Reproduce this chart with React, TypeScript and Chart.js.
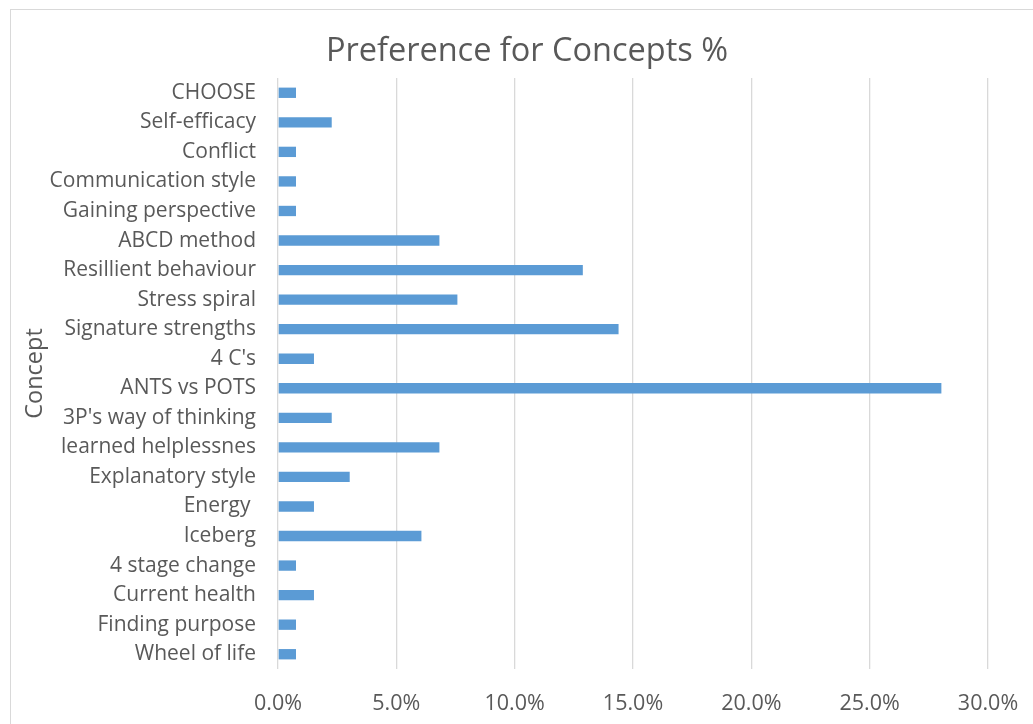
import React, { useEffect, useRef } from "react";
import { Chart, registerables } from "chart.js";

Chart.register(...registerables);

const categories: string[] = [
  "CHOOSE",
  "Self-efficacy",
  "Conflict",
  "Communication style",
  "Gaining perspective",
  "ABCD method",
  "Resillient behaviour",
  "Stress spiral",
  "Signature strengths",
  "4 C's",
  "ANTS vs POTS",
  "3P's way of thinking",
  "learned helplessnes",
  "Explanatory style",
  "Energy ",
  "Iceberg",
  "4 stage change",
  "Current health",
  "Finding purpose",
  "Wheel of life",
];

const preferencePercent: number[] = [
  0.76, 2.27, 0.76, 0.76, 0.76, 6.82, 12.88, 7.58, 14.39, 1.52, 28.03, 2.27,
  6.82, 3.03, 1.52, 6.06, 0.76, 1.52, 0.76, 0.76,
];

const axisMin = 0;
const axisMax = 30;
const axisStep = 5;

const chartTitle = "Preference for Concepts %";
const yAxisTitle = "Concept";

const FONT = "'Open Sans', 'Liberation Sans', sans-serif";
const TEXT = "#595959";
const GRID = "#d9d9d9";
const BAR = "#5b9bd5";

export default function App() {
  const canvasRef = useRef<HTMLCanvasElement | null>(null);

  useEffect(() => {
    if (!canvasRef.current) return;
    const chart = new Chart(canvasRef.current, {
      type: "bar",
      data: {
        labels: categories,
        datasets: [
          {
            label: chartTitle,
            data: preferencePercent,
            backgroundColor: BAR,
            borderWidth: 0,
            barPercentage: 0.35,
            categoryPercentage: 1,
          },
        ],
      },
      options: {
        indexAxis: "y",
        animation: false,
        responsive: false,
        maintainAspectRatio: false,
        devicePixelRatio: 1,
        layout: { padding: { left: 21, right: 0, top: 0, bottom: 0 } },
        plugins: {
          legend: { display: false },
          tooltip: { enabled: false },
          title: {
            display: true,
            text: chartTitle,
            color: TEXT,
            font: { family: FONT, size: 32.5, weight: "normal" },
            padding: { top: 32, bottom: 7 },
          },
        },
        scales: {
          x: {
            type: "linear",
            min: axisMin,
            max: axisMax,
            ticks: {
              stepSize: axisStep,
              color: TEXT,
              font: { family: FONT, size: 21.5 },
              padding: 0,
              callback: (v: any) => Number(v).toFixed(1) + "%",
            },
            grid: {
              color: GRID,
              lineWidth: 1.3,
              drawTicks: true,
              tickLength: 22,
              tickColor: "rgba(0,0,0,0)",
            },
            border: { display: false },
            afterFit: (s: any) => {
              s.height = 55;
            },
          },
          y: {
            ticks: {
              color: TEXT,
              font: { family: FONT, size: 21 },
              padding: 22,
              autoSkip: false,
            },
            grid: { display: false, drawTicks: false },
            border: { display: false },
            title: {
              display: true,
              text: yAxisTitle,
              color: TEXT,
              font: { family: FONT, size: 23.5, weight: "normal" },
              padding: 0,
            },
            afterFit: (s: any) => {
              s.width = 257;
            },
          },
          spacer: {
            type: "linear",
            position: "right",
            display: true,
            ticks: { display: false },
            grid: { display: false, drawTicks: false },
            border: { display: false },
            afterFit: (s: any) => {
              s.width = 45;
            },
          },
        },
      },
    });
    return () => chart.destroy();
  }, []);

  return (
    <div
      style={{
        position: "fixed",
        left: 0,
        top: 0,
        width: 1033,
        height: 724,
        overflow: "hidden",
        background: "#ffffff",
      }}
    >
      <div
        style={{
          position: "absolute",
          left: 10,
          top: 9,
          width: 1040,
          height: 740,
          border: "1px solid #d9d9d9",
          boxSizing: "border-box",
        }}
      />
      <canvas
        ref={canvasRef}
        width={1033}
        height={724}
        style={{ position: "absolute", left: 0, top: 0, width: 1033, height: 724 }}
      />
    </div>
  );
}
